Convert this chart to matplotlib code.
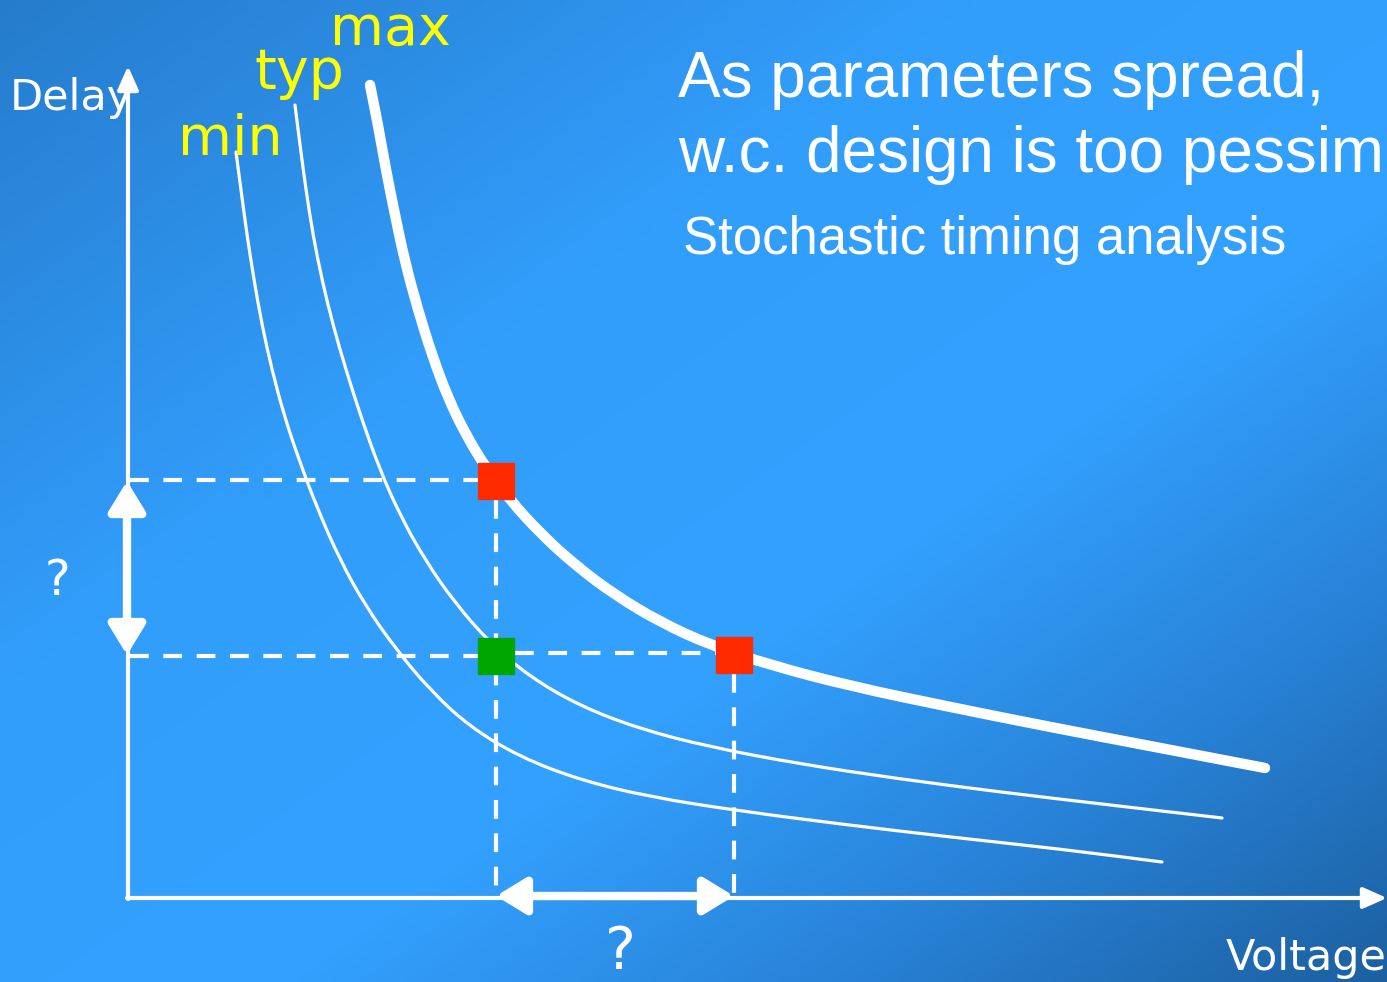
import matplotlib.pyplot as plt
from matplotlib.path import Path
from matplotlib.patches import PathPatch
import numpy as np

W, H = 1387, 982

# curve points (pixel coords, y down)
max_x = [370, 378, 386, 395, 405, 418, 432, 448, 466, 486, 510, 540, 575, 615, 660, 710, 770, 850, 950, 1050, 1150, 1265]
max_y = [85, 125, 170, 215, 262, 310, 355, 398, 435, 468, 500, 533, 565, 595, 622, 645, 665, 686, 707, 727, 746, 768]
typ_x = [295, 300, 306, 313, 322, 333, 346, 362, 380, 400, 425, 455, 490, 530, 580, 640, 710, 800, 900, 1000, 1110, 1222]
typ_y = [105, 145, 190, 235, 280, 325, 370, 420, 470, 515, 560, 603, 643, 677, 706, 729, 747, 764, 779, 792, 805, 818]
min_x = [236, 241, 247, 254, 262, 272, 284, 299, 318, 340, 365, 395, 430, 470, 520, 580, 650, 740, 840, 950, 1060, 1162]
min_y = [152, 190, 235, 280, 325, 370, 415, 460, 510, 560, 605, 648, 690, 727, 757, 780, 797, 811, 824, 837, 849, 862]

# operating points
red_pts = [(496, 481), (734, 655)]
green_pts = [(496, 656)]


def smooth_path(xs, ys):
    # quadratic bezier through midpoints, the read points act as controls
    pts = np.column_stack([xs, ys]).astype(float)
    mids = (pts[:-1] + pts[1:]) / 2
    verts = [pts[0], mids[0]]
    codes = [Path.MOVETO, Path.LINETO]
    for i in range(1, len(pts) - 1):
        verts += [pts[i], mids[i]]
        codes += [Path.CURVE3, Path.CURVE3]
    verts.append(pts[-1])
    codes.append(Path.LINETO)
    return Path(verts, codes)


fig = plt.figure(figsize=(W / 100, H / 100), dpi=100)
ax = fig.add_axes([0, 0, 1, 1])
ax.set_xlim(0, W)
ax.set_ylim(H, 0)
ax.axis('off')

# diagonal gradient background
gx, gy = np.meshgrid(np.linspace(0, 1, 300), np.linspace(0, 1, 220))
t = (gx + gy) / 2
stops = [0.0, 0.35, 0.6, 0.8, 1.0]
cols = np.array([[38, 124, 204], [50, 158, 252], [51, 161, 255], [40, 130, 215], [28, 96, 160]]) / 255
bg = np.dstack([np.interp(t, stops, cols[:, i]) for i in range(3)])
ax.imshow(bg, extent=[0, W, H, 0], aspect='auto', zorder=0, interpolation='bilinear')

# axes
arw = dict(arrowstyle='-|>,head_length=0.9,head_width=0.4', color='white', lw=3,
           mutation_scale=16, shrinkA=0, shrinkB=0)
ax.annotate('', xy=(128, 66), xytext=(128, 899), arrowprops=arw, zorder=3)
ax.annotate('', xy=(1387, 898), xytext=(127, 898), arrowprops=arw, zorder=3)

# dashed guides
dash = dict(color='white', lw=3, ls=(0, (4.5, 3.5)), zorder=2)
ax.plot([130, 480], [480, 480], **dash)
ax.plot([130, 480], [656, 656], **dash)
ax.plot([515, 718], [653, 653], **dash)
ax.plot([496, 496], [500, 895], **dash)
ax.plot([734, 734], [674, 895], **dash)

# curves
for xs, ys, lw in [(min_x, min_y, 2.3), (typ_x, typ_y, 2.3), (max_x, max_y, 7.5)]:
    ax.add_patch(PathPatch(smooth_path(xs, ys), fill=False, edgecolor='white', lw=lw,
                           capstyle='round', joinstyle='round', zorder=3))

# squares
for px, py in red_pts:
    ax.add_patch(plt.Rectangle((px - 18, py - 18), 36, 36, color='#ff2a00', zorder=5))
for px, py in green_pts:
    ax.add_patch(plt.Rectangle((px - 18, py - 18), 36, 36, color='#00a600', zorder=5))

# double arrows
darw = dict(arrowstyle='<|-|>,head_length=0.9,head_width=0.55', color='white', lw=6,
            mutation_scale=20, shrinkA=0, shrinkB=0)
ax.annotate('', xy=(127, 481), xytext=(127, 655), arrowprops=darw, zorder=4)
ax.annotate('', xy=(496, 896), xytext=(734, 896), arrowprops=darw, zorder=4)

# labels
font = 'DejaVu Sans'
ax.text(10, 110, 'Delay', color='white', fontsize=31, family=font, va='baseline', zorder=6)
ax.text(1387, 970, 'Voltage', color='white', fontsize=31, family=font, va='baseline', ha='right', zorder=6)
ax.text(57, 595, '?', color='white', fontsize=35, family=font, va='baseline', ha='center', zorder=6)
ax.text(620, 969, '?', color='white', fontsize=42, family=font, va='baseline', ha='center', zorder=6)

ax.text(330, 45, 'max', color='#ffff00', fontsize=40, family=font, va='baseline', zorder=6)
ax.text(255, 88, 'typ', color='#ffff00', fontsize=40, family=font, va='baseline', zorder=6)
ax.text(178, 155, 'min', color='#ffff00', fontsize=40, family=font, va='baseline', zorder=6)

sans = 'Liberation Sans'
ax.text(678, 97, 'As parameters spread,', color='white', fontsize=46, family=sans, va='baseline', zorder=6)
ax.text(678, 172, 'w.c. design is too pessimistic', color='white', fontsize=46, family=sans, va='baseline', zorder=6)
ax.text(683, 254, 'Stochastic timing analysis', color='white', fontsize=38, family=sans, va='baseline', zorder=6)

fig.savefig('out.png', dpi=100)
